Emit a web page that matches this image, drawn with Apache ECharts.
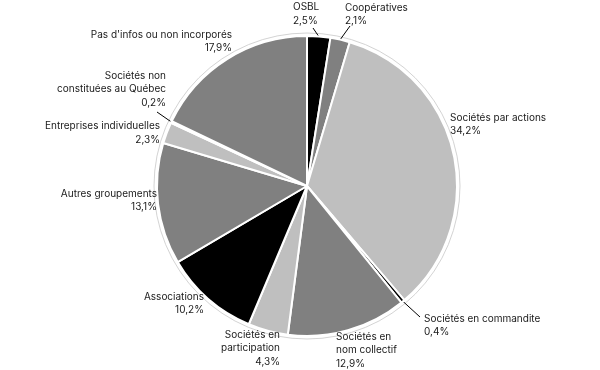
<!DOCTYPE html>
<html><head><meta charset="utf-8">
<script src="https://cdn.jsdelivr.net/npm/echarts@6/dist/echarts.min.js"></script>
<style>html,body{margin:0;padding:0;background:#fff}#c{width:600px;height:370px}</style>
</head><body><div id="c"></div>
<script>
const categories = ["OSBL","Coopératives","Sociétés par actions","Sociétés en commandite","Sociétés en nom collectif","Sociétés en participation","Associations","Autres groupements","Entreprises individuelles","Sociétés non constituées au Québec","Pas d'infos ou non incorporés"];
const labelText = ["OSBL","Coopératives","Sociétés par actions","Sociétés en commandite","Sociétés en\nnom collectif","Sociétés en\nparticipation","Associations","Autres groupements","Entreprises individuelles","Sociétés non\nconstituées au Québec","Pas d'infos ou non incorporés"];
const values = [2.5,2.1,34.2,0.4,12.9,4.3,10.2,13.1,2.3,0.2,17.9];
const colors = ["#000000","#808080","#bfbfbf","#000000","#808080","#bfbfbf","#000000","#808080","#bfbfbf","#000000","#808080"];
const withLine = [true,true,false,true,false,false,false,false,false,true,false];

// label layout: [x, top y, align, line end x, line end y]
const labelLayoutCfg = [
  [293, 0.5, 'left', 313, 28],
  [345, 1, 'left', 350, 26],
  [450, 111, 'left'],
  [424, 312, 'left', 420, 317],
  [336, 330, 'left'],
  [280, 328, 'right'],
  [204, 290, 'right'],
  [157, 187, 'right'],
  [160, 119.5, 'right'],
  [166, 69, 'right', 157, 112],
  [232, 28, 'right']
];

const chart = echarts.init(document.getElementById('c'), null, {renderer:'canvas'});
const data = values.map((v,i)=>({
  name: categories[i], value: v,
  itemStyle:{color: colors[i]},
  label:{formatter: labelText[i] + '\n' + v.toFixed(1).replace('.', ',') + '%'},
  labelLine:{show: withLine[i]}
}));
chart.setOption({
  animation:false,
  series:[
    {type:'pie', silent:true, center:[307,186], radius:[0,153], startAngle:90,
     data:[{value:1, itemStyle:{color:'rgba(0,0,0,0)', borderColor:'#c8c8c8', borderWidth:0.8}}],
     label:{show:false}, labelLine:{show:false}, z:1},
    {type:'pie', center:[307,186], radius:[0,150], startAngle:90, clockwise:true,
     itemStyle:{borderColor:'#fff', borderWidth:2},
     label:{show:true, position:'outside', color:'#1a1a1a', fontFamily:'Inter', fontSize:10, lineHeight:13.5},
     labelLine:{lineStyle:{color:'#000', width:1}, length:8, length2:0},
     labelLayout:function(p){
       const c = labelLayoutCfg[p.dataIndex];
       const o = {x:c[0], y:c[1], align:c[2], verticalAlign:'top'};
       if (c.length > 3 && p.labelLinePoints) {
         const s = p.labelLinePoints[0];
         o.labelLinePoints = [s, [c[3],c[4]], [c[3],c[4]]];
       }
       return o;
     },
     data:data, z:2}
  ]
});
</script></body></html>
